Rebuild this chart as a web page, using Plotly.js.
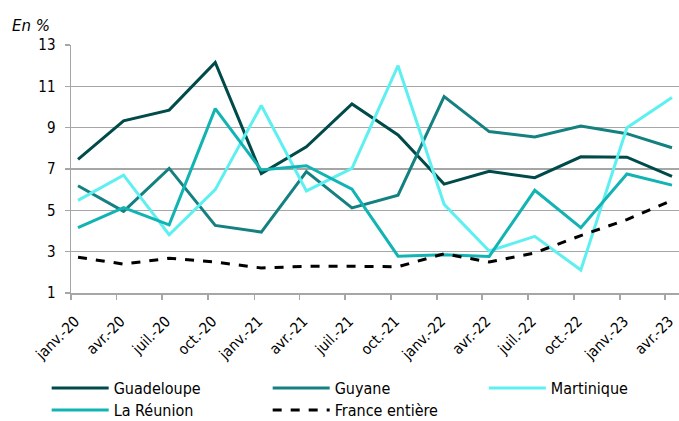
<!DOCTYPE html>
<html>
<head>
<meta charset="utf-8">
<script src="https://cdn.plot.ly/plotly-3.0.1.min.js"></script>
<style>html,body{margin:0;padding:0;background:#fff;}#chart{width:679px;height:421px;}</style>
</head>
<body>
<div id="chart"></div>
<script>
const dates = ["2020-01-15","2020-04-15","2020-07-15","2020-10-15","2021-01-15","2021-04-15","2021-07-15","2021-10-15","2022-01-15","2022-04-15","2022-07-15","2022-10-15","2023-01-15","2023-04-15"];
const tickDates = ["2020-01-01","2020-04-01","2020-07-01","2020-10-01","2021-01-01","2021-04-01","2021-07-01","2021-10-01","2022-01-01","2022-04-01","2022-07-01","2022-10-01","2023-01-01","2023-04-01"];
const tickLabels = ["janv.-20","avr.-20","juil.-20","oct.-20","janv.-21","avr.-21","juil.-21","oct.-21","janv.-22","avr.-22","juil.-22","oct.-22","janv.-23","avr.-23"];
const guadeloupe = [7.47, 9.33, 9.85, 12.16, 6.78, 8.07, 10.15, 8.65, 6.27, 6.89, 6.58, 7.59, 7.57, 6.64];
const guyane = [6.19, 4.95, 7.03, 4.27, 3.95, 6.87, 5.12, 5.73, 10.5, 8.81, 8.55, 9.08, 8.71, 8.03];
const martinique = [5.48, 6.7, 3.82, 6.0, 10.07, 5.94, 7.03, 12.0, 5.29, 3.03, 3.74, 2.11, 9.0, 10.46];
const reunion = [4.16, 5.13, 4.3, 9.92, 6.95, 7.16, 6.02, 2.78, 2.85, 2.77, 5.97, 4.16, 6.76, 6.22];
const france = [2.73, 2.4, 2.68, 2.5, 2.21, 2.29, 2.29, 2.27, 2.9, 2.5, 2.94, 3.78, 4.55, 5.48];

const font = "DejaVu Sans Condensed, DejaVu Sans, sans-serif";
function tr(name, y, color, leg, dash) {
  return {x: dates, y: y, name: name, type: "scatter", mode: "lines", legend: leg,
    line: {color: color, width: 3, dash: dash || "solid"}};
}
const data = [
  tr("Guadeloupe", guadeloupe, "#004a4a", "legend"),
  tr("Guyane", guyane, "#148080", "legend"),
  tr("Martinique", martinique, "#5ef0f0", "legend3"),
  tr("La Réunion", reunion, "#12b3b3", "legend2"),
  tr("France entière", france, "#000000", "legend2", "dash")
];
const legBase = {orientation: "h", xanchor: "left", yanchor: "middle",
  entrywidth: 149, entrywidthmode: "pixels", itemwidth: 57, traceorder: "normal",
  font: {family: font, size: 16}, bgcolor: "rgba(0,0,0,0)"};
const layout = {
  width: 679, height: 421,
  margin: {l: 71, r: 0, t: 45, b: 128, autoexpand: false},
  paper_bgcolor: "#fff", plot_bgcolor: "#fff",
  font: {family: font, size: 14, color: "#000"},
  xaxis: {type: "date", range: ["2020-01-01", "2023-04-29"], automargin: false,
    tickmode: "array", tickvals: tickDates, ticktext: tickLabels, tickangle: -45,
    showgrid: false, showline: true, linecolor: "#a6a6a6", linewidth: 1.5,
    ticks: "outside", ticklen: 5, tickcolor: "#a6a6a6", tickwidth: 1.5,
    ticklabelstandoff: 7, ticklabelshift: 4,
    tickfont: {family: font, size: 15}},
  yaxis: {range: [1, 13], tickvals: [1,3,5,7,9,11,13], automargin: false,
    showgrid: true, gridcolor: "#a6a6a6", gridwidth: 1.5,
    zeroline: false, showline: true, linecolor: "#a6a6a6", linewidth: 1.5,
    ticks: "outside", ticklen: 5, tickcolor: "#a6a6a6", tickwidth: 1.5, ticklabelstandoff: 6,
    tickfont: {family: font, size: 15}},
  showlegend: true,
  legend: Object.assign({}, legBase, {x: -0.04, y: -0.383}),
  legend3: Object.assign({}, legBase, {x: 0.679, y: -0.383}),
  legend2: Object.assign({}, legBase, {x: -0.04, y: -0.472}),
  annotations: [{text: "<i>En %</i>", xref: "paper", yref: "paper", x: -0.1, y: 1.077,
    xanchor: "left", yanchor: "middle", showarrow: false, font: {family: "DejaVu Sans, sans-serif", size: 15}}]
};
Plotly.newPlot("chart", data, layout, {staticPlot: true, displayModeBar: false});
</script>
</body>
</html>
